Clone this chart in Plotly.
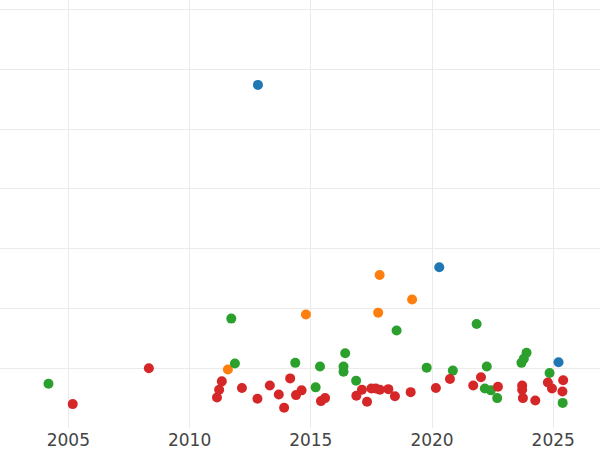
import plotly.graph_objects as go

# Blue series
blue_x = [2012.82, 2020.30, 2025.22]
blue_y = [57.4, 26.9, 11.0]

# Orange series
orange_x = [2011.58, 2014.80, 2017.84, 2017.78, 2019.18]
orange_y = [9.8, 19.0, 25.6, 19.3, 21.5]

# Green series
green_x = [2004.18, 2011.72, 2011.87, 2014.36, 2015.20, 2015.38, 2016.35, 2016.35,
           2016.42, 2016.87, 2018.54, 2019.78, 2020.86, 2021.84, 2022.18, 2022.26,
           2022.43, 2022.69, 2023.69, 2023.79, 2023.90, 2024.85, 2025.39]
green_y = [7.4, 18.3, 10.8, 10.9, 6.8, 10.3, 10.3, 9.4,
           12.5, 7.9, 16.3, 10.1, 9.6, 17.4, 6.6, 10.3,
           6.3, 5.0, 10.9, 11.6, 12.6, 9.2, 4.2]

# Red series
red_x = [2005.18, 2008.32, 2011.13, 2011.22, 2011.33, 2012.16, 2012.80, 2013.31,
         2013.68, 2013.90, 2014.15, 2014.39, 2014.62, 2015.42, 2015.59, 2016.88,
         2017.11, 2017.32, 2017.50, 2017.68, 2017.85, 2018.20, 2018.47, 2019.12,
         2020.16, 2020.74, 2021.70, 2022.02, 2022.72, 2023.72, 2023.72, 2023.75,
         2024.26, 2024.78, 2024.95, 2025.38, 2025.41]
red_y = [4.0, 10.0, 5.1, 6.4, 7.8, 6.7, 4.9, 7.1,
         5.6, 3.4, 8.3, 5.5, 6.3, 4.5, 5.0, 5.4,
         6.4, 4.4, 6.6, 6.6, 6.4, 6.5, 5.3, 6.0,
         6.7, 8.2, 7.1, 8.5, 6.9, 7.1, 6.4, 5.0,
         4.6, 7.6, 6.6, 6.1, 8.0]

tick_years = [2005, 2010, 2015, 2020, 2025]
tick_text = ["2005", "2010", "2015", "2020", "2025"]

series = [
    (blue_x, blue_y, "#1f77b4"),
    (orange_x, orange_y, "#ff7f0e"),
    (green_x, green_y, "#2ca02c"),
    (red_x, red_y, "#d62728"),
]

fig = go.Figure()
for xs, ys, color in series:
    fig.add_trace(go.Scatter(
        x=xs, y=ys, mode="markers",
        marker=dict(color=color, size=10, line=dict(width=0)),
        showlegend=False,
    ))

fig.update_layout(
    width=600, height=450,
    margin=dict(l=0, r=0, t=0, b=22),
    paper_bgcolor="white",
    plot_bgcolor="white",
    font=dict(family="DejaVu Sans", color="#444"),
    showlegend=False,
)
fig.update_xaxes(
    range=[2002.18, 2026.93],
    tickvals=tick_years, ticktext=tick_text,
    showgrid=True, gridcolor="#ebebeb", gridwidth=1,
    zeroline=False, showline=False, ticks="",
    tickfont=dict(size=17, color="#444"),
    automargin=False,
)
fig.update_yaxes(
    range=[0, 71.6], dtick=10,
    showgrid=True, gridcolor="#ebebeb", gridwidth=1,
    zeroline=False, showline=False, showticklabels=False, ticks="",
    automargin=False,
)

fig.write_html(
    "out.html",
    config={"displayModeBar": False},
    post_script="document.body.style.margin='0';document.body.style.overflow='hidden';",
)
